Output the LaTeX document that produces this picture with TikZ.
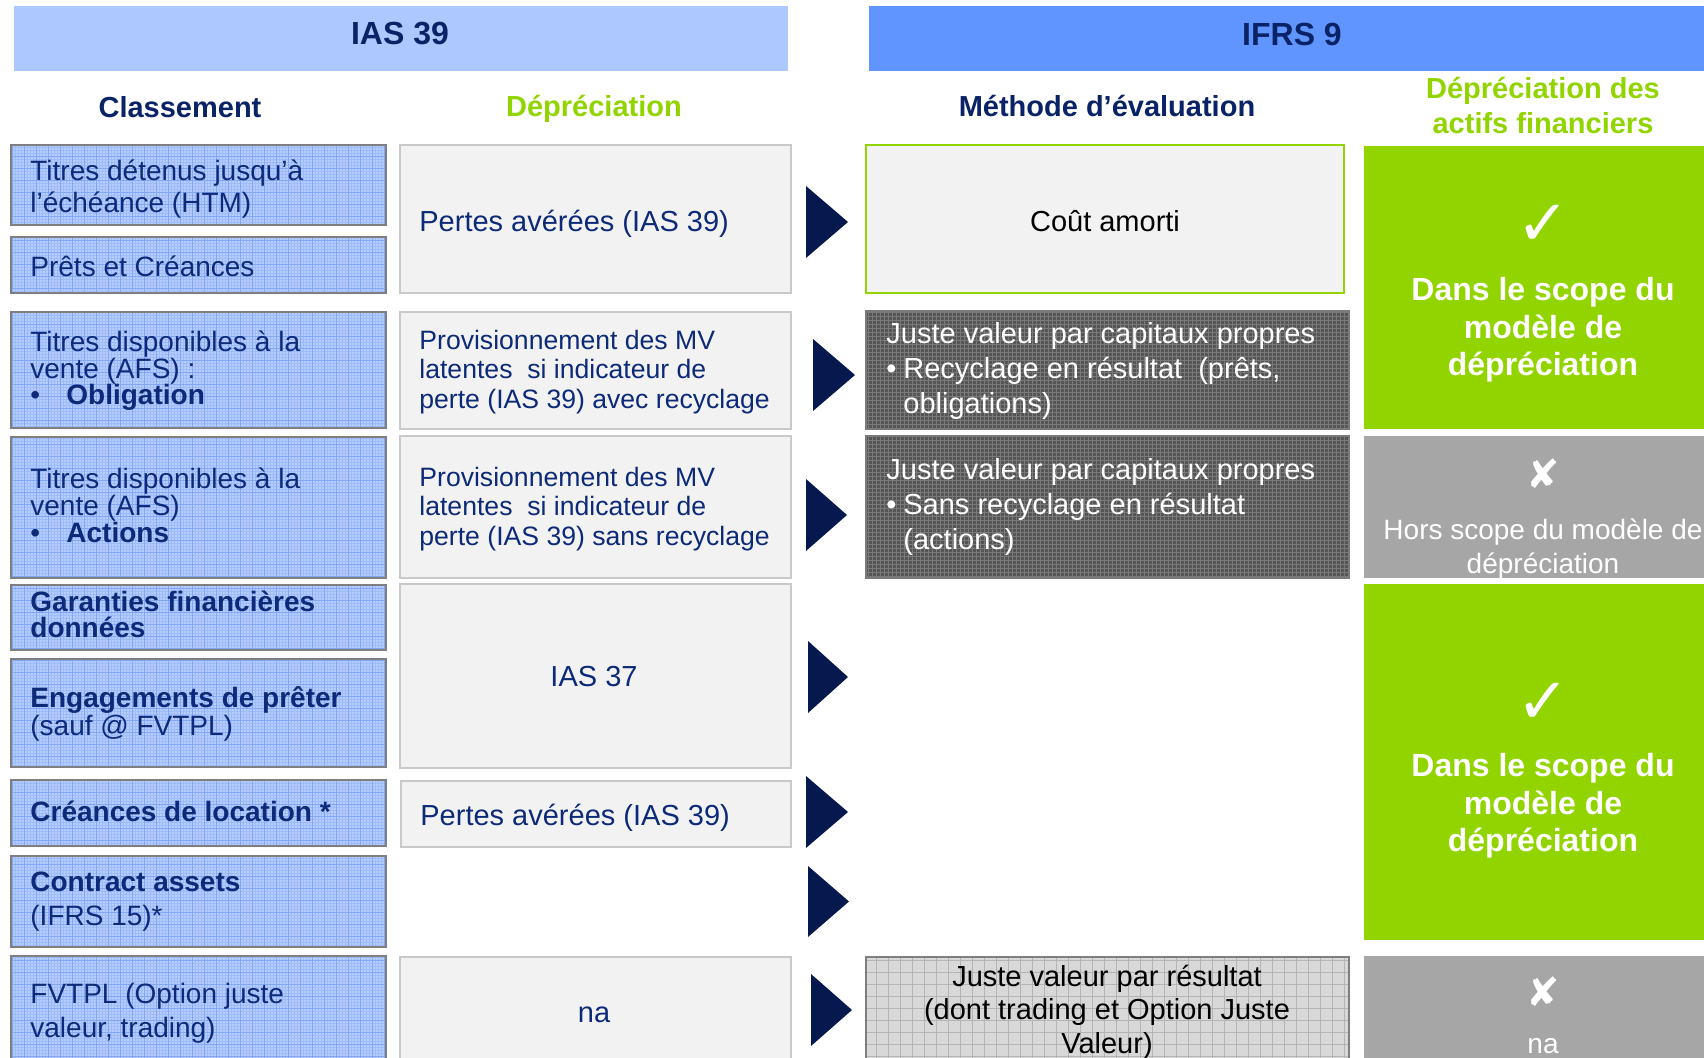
\documentclass[tikz,border=0pt]{standalone}
\usepackage{fontspec}
\setmainfont{Liberation Sans}
\newfontfamily\symfont{DejaVu Sans}
\definecolor{navy}{HTML}{0A2366}
\definecolor{txtblue}{HTML}{0C2A78}
\definecolor{arrowc}{HTML}{06194F}
\definecolor{hdrlight}{HTML}{ADC8FF}
\definecolor{hdrdark}{HTML}{6095FF}
\definecolor{lgreen}{HTML}{92D400}
\definecolor{boxblue}{HTML}{B6CCFF}
\definecolor{gridblue}{HTML}{80A7F8}
\definecolor{midfill}{HTML}{F2F2F2}
\definecolor{midborder}{HTML}{C9C9C9}
\definecolor{bordergray}{HTML}{7F7F7F}
\definecolor{darkfill}{HTML}{555555}
\definecolor{darkgrid}{HTML}{7A7A7A}
\definecolor{lightfill}{HTML}{D8D8D8}
\definecolor{lightgrid}{HTML}{B4B4B4}
\definecolor{scopegray}{HTML}{A6A6A6}
\newcommand\fsz[2]{\fontsize{#1}{#2}\selectfont}
% x1 y1 x2 y2 fill gridstyle borderstyle
\newcommand\gbox[7]{%
  \begin{scope}
    \clip (#1,#2) rectangle (#3,#4);
    \fill[#5] (#1,#2) rectangle (#3,#4);
    \draw[#6] (#1,#4) grid (#3,#2);
  \end{scope}
  \draw[#7] (#1,#2) rectangle (#3,#4);
}
\newcommand\tri[4]{\fill[arrowc] (#1,#3) -- (#2,{(#3+#4)/2}) -- (#1,#4) -- cycle;}
\begin{document}
\begin{tikzpicture}[x=0.5pt,y=-0.5pt,
  bgrid/.style={draw=gridblue,line width=0.45pt,step=6pt},
  bfine/.style={draw=gridblue!45!boxblue,line width=0.3pt,step=1.5pt},
  bborder/.style={draw=bordergray,line width=1.2pt},
  mborder/.style={draw=midborder,line width=1.1pt},
  dgrid/.style={draw=darkgrid,line width=0.35pt,step=2pt},
  lgrid/.style={draw=lightgrid,line width=0.4pt,step=6pt},
  ltxt/.style={anchor=west,align=left,inner sep=0pt,text=txtblue,font=\fsz{14pt}{16pt}},
  hdr/.style={inner sep=0pt,text=navy,font=\fsz{16pt}{19pt}\bfseries},
  subhdr/.style={inner sep=0pt,align=center,font=\fsz{14.5pt}{17.5pt}\bfseries},
  wtxt/.style={inner sep=0pt,align=center,text=white},
]
\useasboundingbox (0,0) rectangle (1704,1058);
\clip (0,0) rectangle (1704,1058);

% headers
\fill[hdrlight] (14,6) rectangle (788,71);
\fill[hdrdark] (869,6) rectangle (1704,71);
\node[hdr] (h1) at (400,34) {IAS 39};
\node[hdr] (h2) at (1292,34) {IFRS 9};
\node[subhdr,text=navy] (s1) at (180,107) {Classement};
\node[subhdr,text=lgreen] (s2) at (594,109) {Dépréciation};
\node[subhdr,text=navy] (s3) at (1107,106) {Méthode d’évaluation};
\node[subhdr,text=lgreen] (s4) at (1543,106) {Dépréciation des\\actifs financiers};

% left column (blue grid boxes)
\foreach \ya/\yb in {145/225,237/293,312/428,437/578,585/650,659/767,780/846,856/947,956/1080}{
  \begin{scope}
    \clip (11,\ya) rectangle (386,\yb);
    \fill[boxblue] (11,\ya) rectangle (386,\yb);
    \draw[bfine] (11,\yb) grid (386,\ya);
    \draw[bgrid] (11,\yb) grid (386,\ya);
  \end{scope}
  \draw[bborder] (11,\ya) rectangle (386,\yb);
}
\node[ltxt] (l1) at (30,189) {Titres détenus jusqu’à\\l’échéance (HTM)};
\node[ltxt] (l2) at (30,266) {Prêts et Créances};
\node[ltxt,font=\fsz{14pt}{13.25pt}] (l3) at (30,371) {Titres disponibles à la\\vente (AFS) :\\\makebox[18pt][l]{•}\textbf{Obligation}};
\node[ltxt,font=\fsz{14pt}{13.5pt}] (l4) at (30,505) {Titres disponibles à la\\vente (AFS)\\\makebox[18pt][l]{•}\textbf{Actions}};
\node[ltxt,font=\fsz{14pt}{13pt}\bfseries] (l5) at (30,614) {Garanties financières\\données};
\node[ltxt,font=\fsz{14pt}{13pt}] (l6) at (30,714) {\textbf{Engagements de prêter}\\(sauf @ FVTPL)};
\node[ltxt,font=\fsz{14pt}{16pt}\bfseries] (l7) at (30,811) {Créances de location *};
\node[ltxt,font=\fsz{14pt}{17pt}] (l8) at (30,902) {\textbf{Contract assets}\\(IFRS 15)*};
\node[ltxt,font=\fsz{14pt}{17pt}] (l9) at (30,1013) {FVTPL (Option juste\\valeur, trading)};

% middle column
\foreach \xa/\ya/\yb in {400/145/293,400/312/429,400/436/578,400/584/768,401/781/847,400/957/1080}{
  \fill[midfill] (\xa,\ya) rectangle (791,\yb);
  \draw[mborder] (\xa,\ya) rectangle (791,\yb);
}
\node[ltxt,font=\fsz{14.5pt}{17pt}] (m1) at (419,224) {Pertes avérées (IAS 39)};
\node[ltxt,font=\fsz{13.3pt}{14.75pt}] (m2) at (419,372) {Provisionnement des MV\\latentes~ si indicateur de\\perte (IAS 39) avec recyclage};
\node[ltxt,font=\fsz{13.3pt}{14.75pt}] (m3) at (419,509) {Provisionnement des MV\\latentes~ si indicateur de\\perte (IAS 39) sans recyclage};
\node[ltxt,anchor=center,font=\fsz{14.5pt}{17pt}] (m4) at (594,677) {IAS 37};
\node[ltxt,font=\fsz{14.5pt}{17pt}] (m5) at (420,818) {Pertes avérées (IAS 39)};
\node[ltxt,anchor=center,font=\fsz{14.5pt}{17pt}] (m6) at (594,1015) {na};

% arrows
\tri{806}{848}{186}{258}
\tri{813}{855}{339}{411}
\tri{806}{847}{479}{551}
\tri{808}{848}{641}{713}
\tri{806}{848}{776}{848}
\tri{808}{849}{866}{937}
\tri{811}{852}{974}{1046}

% method column
\fill[midfill] (866,145) rectangle (1344,293);
\draw[draw=lgreen,line width=1.3pt] (866,145) rectangle (1344,293);
\node[inner sep=0pt,font=\fsz{14.5pt}{17pt}] (c1) at (1105,221) {Coût amorti};
\gbox{866}{311}{1349}{429}{darkfill}{dgrid}{draw=darkgrid,line width=0.8pt}
\gbox{866}{436}{1349}{578}{darkfill}{dgrid}{draw=darkgrid,line width=0.8pt}
\node[ltxt,text=white,font=\fsz{14.5pt}{17.5pt}] (j1) at (886,371) {Juste valeur par capitaux propres\\\makebox[8.5pt][l]{•}Recyclage en résultat~ (prêts,\\\hspace*{8.5pt}obligations)};
\node[ltxt,text=white,font=\fsz{14.5pt}{17.5pt}] (j2) at (886,507) {Juste valeur par capitaux propres\\\makebox[8.5pt][l]{•}Sans recyclage en résultat\\\hspace*{8.5pt}(actions)};
\gbox{866}{957}{1349}{1080}{lightfill}{lgrid}{draw=bordergray,line width=1.1pt}
\node[inner sep=0pt,align=center,font=\fsz{14.5pt}{16.75pt}] (j3) at (1107,1012) {Juste valeur par résultat\\(dont trading et Option Juste\\Valeur)};

% right column
\fill[lgreen] (1364,146) rectangle (1704,429);
\fill[scopegray] (1364,436) rectangle (1704,578);
\fill[lgreen] (1364,584) rectangle (1704,940);
\fill[scopegray] (1364,956) rectangle (1704,1080);
\node[wtxt,font=\symfont\fontsize{32pt}{32pt}\selectfont] (k1) at (1543,225) {✓};
\node[wtxt,font=\fsz{16pt}{18.75pt}\bfseries] (g1) at (1543,330) {Dans le scope du\\modèle de\\dépréciation};
\node[wtxt,font=\symfont\fontsize{20pt}{20pt}\selectfont] (x1) at (1543,474) {✘};
\node[wtxt,font=\fsz{14pt}{17pt}] (hs) at (1543,549) {Hors scope du modèle de\\dépréciation};
\node[wtxt,font=\symfont\fontsize{32pt}{32pt}\selectfont] (k2) at (1543,703) {✓};
\node[wtxt,font=\fsz{16pt}{18.75pt}\bfseries] (g2) at (1543,806) {Dans le scope du\\modèle de\\dépréciation};
\node[wtxt,font=\symfont\fontsize{20pt}{20pt}\selectfont] (x2) at (1543,992) {✘};
\node[wtxt,font=\fsz{14pt}{17pt}] (na2) at (1543,1046) {na};
\end{tikzpicture}
\end{document}
